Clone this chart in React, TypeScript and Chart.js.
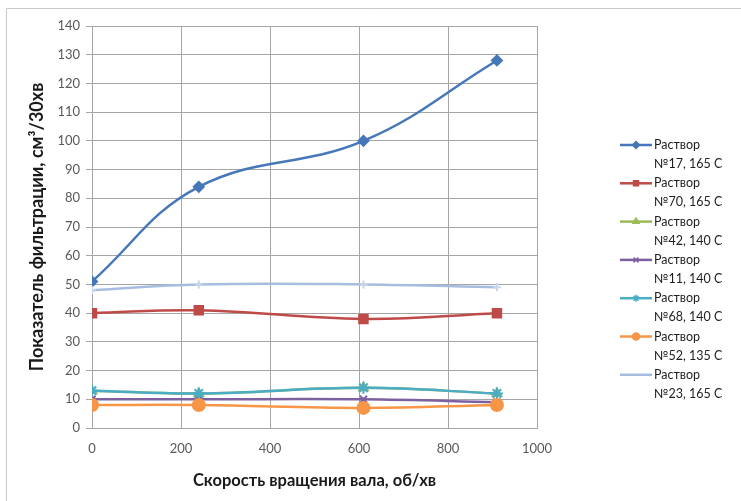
import React, { useEffect, useRef } from "react";
import { Chart, registerables } from "chart.js";
import { drawPoint } from "chart.js/helpers";

Chart.register(...registerables);

const speeds = [0, 240, 610, 910];
const seriesNames = [
  ["Раствор", "№17, 165 С"],
  ["Раствор", "№70, 165 С"],
  ["Раствор", "№42, 140 С"],
  ["Раствор", "№11, 140 С"],
  ["Раствор", "№68, 140 С"],
  ["Раствор", "№52, 135 С"],
  ["Раствор", "№23, 165 С"],
];
const s17 = [51, 84, 100, 128];
const s70 = [40, 41, 38, 40];
const s42 = [13, 12, 14, 12];
const s11 = [10, 10, 10, 9];
const s68 = [13, 12, 14, 12];
const s52 = [8, 8, 7, 8];
const s23 = [48, 50, 50, 49];
const yTicks = { min: 0, max: 140, step: 10 };
const xTicks = { min: 0, max: 1000, step: 200 };

const allSeries = [s17, s70, s42, s11, s68, s52, s23];
const colors = ["#4677B8", "#BE4B48", "#9BBB59", "#7D60A0", "#4BACC6", "#F79646", "#A7BDE0"];
const markerColors = ["#4677B8", "#BE4B48", "#9BBB59", "#7D60A0", "#4BACC6", "#F79646", "#C9D5EA"];
const styles = ["rectRot", "rect", "triangle", "crossRot", "star", "circle", "cross"];
const radii = [5, 6, 5, 5, 6, 6, 4];

const FONT = "Lato, 'Open Sans', sans-serif";

const frameAndLegend = {
  id: "frameAndLegend",
  afterDraw(chart: any) {
    const ctx = chart.ctx;
    ctx.save();
    ctx.strokeStyle = "#c8c8c8";
    ctx.lineWidth = 1;
    ctx.beginPath();
    ctx.moveTo(6.5, 501);
    ctx.lineTo(6.5, 8.5);
    ctx.lineTo(741, 8.5);
    ctx.stroke();

    chart.data.datasets.forEach((ds: any, i: number) => {
      const y = 145 + i * 38.3;
      ctx.strokeStyle = ds.borderColor;
      ctx.lineWidth = 2.5;
      ctx.beginPath();
      ctx.moveTo(620, y);
      ctx.lineTo(652, y);
      ctx.stroke();
      if (ds.pointStyle !== "cross") {
        ctx.fillStyle = ds.pointBackgroundColor;
        ctx.strokeStyle = ds.pointBorderColor;
        ctx.lineWidth = 1.5;
        drawPoint(ctx, { pointStyle: ds.pointStyle, radius: 3.5, rotation: 0, borderWidth: 1.5 }, 636, y);
      }
      ctx.fillStyle = "#1e1e1e";
      ctx.font = "12.5px " + FONT;
      ctx.textAlign = "left";
      ctx.textBaseline = "middle";
      ctx.fillText(seriesNames[i][0], 654, y);
      ctx.fillText(seriesNames[i][1], 654, y + 19);
    });
    ctx.restore();
  },
};

export default function App() {
  const ref = useRef<HTMLCanvasElement>(null);
  useEffect(() => {
    document.body.style.margin = "0";
    const datasets = allSeries.map((vals, i) => ({
      label: seriesNames[i].join(" "),
      data: vals.map((v, j) => ({ x: speeds[j], y: v })),
      borderColor: colors[i],
      backgroundColor: colors[i],
      pointBackgroundColor: markerColors[i],
      pointBorderColor: markerColors[i],
      pointStyle: styles[i],
      pointRadius: radii[i],
      pointBorderWidth: 2,
      borderWidth: 2.5,
      tension: 0.4,
      order: 7 - i,
    }));
    const chart = new Chart(ref.current!, {
      type: "line",
      data: { datasets },
      options: {
        animation: false,
        responsive: false,
        layout: { padding: { left: 0, right: 204, top: 26, bottom: 0 } },
        plugins: { legend: { display: false }, tooltip: { enabled: false } },
        scales: {
          x: {
            type: "linear",
            min: xTicks.min,
            max: xTicks.max,
            ticks: {
              stepSize: xTicks.step,
              color: "#595959",
              font: { family: FONT, size: 13 },
              padding: 13,
              callback: (v: any) => String(v),
            },
            grid: { color: "#a6a6a6", tickLength: 0, drawTicks: false },
            border: { color: "#a6a6a6" },
            title: {
              display: true,
              text: "Скорость вращения вала, об/хв",
              color: "#1a1a1a",
              font: { family: FONT, size: 16.5, weight: "bold" },
              padding: { top: 0, bottom: 10 },
            },
            afterFit: (s: any) => { s.height = 73; },
          },
          y: {
            min: yTicks.min,
            max: yTicks.max,
            ticks: { stepSize: yTicks.step, color: "#595959", font: { family: FONT, size: 13 }, padding: 6 },
            grid: { color: "#a6a6a6", tickLength: 6 },
            border: { color: "#a6a6a6" },
            title: {
              display: true,
              text: "Показатель фильтрации, см³/30хв",
              color: "#1a1a1a",
              font: { family: FONT, size: 18, weight: "bold" },
              padding: { top: 26, bottom: 0 },
            },
            afterFit: (s: any) => { s.width = 92; },
          },
        },
      },
      plugins: [frameAndLegend],
    });
    return () => chart.destroy();
  }, []);
  return (
    <div style={{ width: 741, height: 501 }}>
      <canvas ref={ref} width={741} height={501} style={{ display: "block" }} />
    </div>
  );
}
